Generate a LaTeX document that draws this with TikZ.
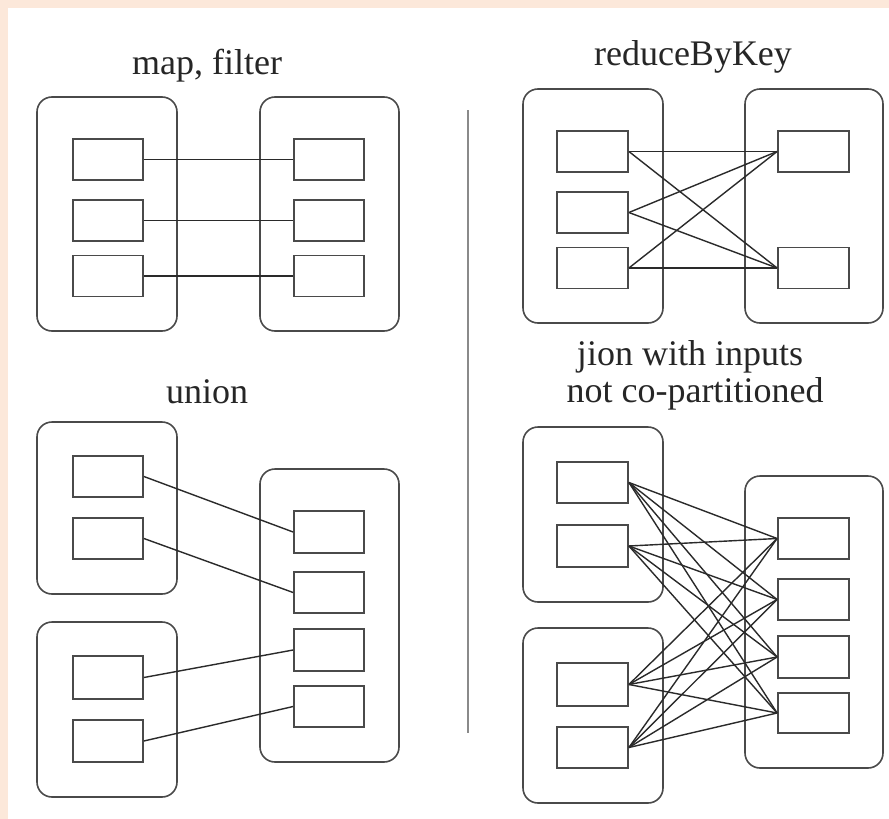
\documentclass[tikz,border=0pt]{standalone}
\usepackage{fontspec}
\setmainfont{Liberation Serif}
\definecolor{peach}{HTML}{FCE8DA}
\definecolor{boxc}{HTML}{4A4A4A}
\definecolor{linec}{HTML}{2A2A2A}
\definecolor{divc}{HTML}{8A8A8A}
\begin{document}
\begin{tikzpicture}[x=1pt,y=-1pt,
  sbox/.style={draw=boxc,line width=1.8pt,minimum width=70pt,minimum height=41pt,inner sep=0pt,fill=white},
  bbox/.style={draw=boxc,line width=1.6pt,rounded corners=15pt,inner sep=0pt,minimum width=140pt},
  conn/.style={draw=linec,line width=1.4pt},
  ttl/.style={anchor=base,inner sep=0pt,text=black!85,font=\fontsize{36}{38}\selectfont}]
\useasboundingbox (0,0) rectangle (889,819);
\fill[peach] (0,0) rectangle (889,819);
\fill[white] (8,8) rectangle (889,819);

% titles
\node[ttl] (t1) at (207,74) {map, filter};
\node[ttl] (t2) at (693,65) {reduceByKey};
\node[ttl] (t3) at (207,403) {union};
\node[ttl] (t4a) at (690,365) {jion with inputs};
\node[ttl] (t4b) at (695,402) {not co-partitioned};

% divider
\coordinate (dv1) at (467.5,110);
\coordinate (dv2) at (467.5,733);
\draw[divc,line width=2pt] (dv1) -- (dv2);

% ---- map, filter
\node[bbox,minimum height=234pt] (AL) at (107,214) {};
\node[bbox,minimum height=234pt,minimum width=139pt] (AR) at (329.5,214) {};
\foreach \n/\y in {1/159.5,2/220.5,3/276}{
  \node[sbox] (a\n) at (108,\y) {};
  \node[sbox] (b\n) at (329,\y) {};
}
\foreach \n in {1,2,3}{ \draw[conn] (a\n.east) -- (b\n.west); }

% ---- reduceByKey
\node[bbox,minimum height=234pt] (BL) at (593,206) {};
\node[bbox,minimum height=234pt,minimum width=138pt] (BR) at (814,206) {};
\foreach \n/\y in {1/151.5,2/212.5,3/268}{
  \node[sbox,minimum width=71pt] (c\n) at (592.5,\y) {};
}
\node[sbox,minimum width=71pt] (d1) at (813.5,151.5) {};
\node[sbox,minimum width=71pt] (d2) at (813.5,268) {};
\foreach \i in {1,2,3}{\foreach \j in {1,2}{ \draw[conn] (c\i.east) -- (d\j.west); }}

% ---- union
\node[bbox,minimum height=172pt] (CTL) at (107,508) {};
\node[bbox,minimum height=175pt] (CBL) at (107,709.5) {};
\node[bbox,minimum height=293pt,minimum width=139pt] (CR) at (329.5,615.5) {};
\node[sbox] (e1) at (108,476.5) {};
\node[sbox] (e2) at (108,538.5) {};
\node[sbox,minimum height=43pt] (e3) at (108,677.5) {};
\node[sbox,minimum height=42pt] (e4) at (108,741) {};
\node[sbox,minimum height=42pt] (f1) at (329,532) {};
\node[sbox] (f2) at (329,592.5) {};
\node[sbox,minimum height=42pt] (f3) at (329,650) {};
\node[sbox] (f4) at (329,706.5) {};
\foreach \n in {1,2,3,4}{ \draw[conn] (e\n.east) -- (f\n.west); }

% ---- join
\node[bbox,minimum height=175pt] (DTL) at (593,514.5) {};
\node[bbox,minimum height=175pt] (DBL) at (593,715.5) {};
\node[bbox,minimum height=292pt,minimum width=138pt] (DR) at (814,622) {};
\node[sbox,minimum width=71pt] (g1) at (592.5,482.5) {};
\node[sbox,minimum width=71pt,minimum height=42pt] (g2) at (592.5,546) {};
\node[sbox,minimum width=71pt,minimum height=43pt] (g3) at (592.5,684.5) {};
\node[sbox,minimum width=71pt] (g4) at (592.5,747.5) {};
\node[sbox,minimum width=71pt] (h1) at (813.5,538.5) {};
\node[sbox,minimum width=71pt] (h2) at (813.5,599.5) {};
\node[sbox,minimum width=71pt,minimum height=42pt] (h3) at (813.5,657) {};
\node[sbox,minimum width=71pt,minimum height=40pt] (h4) at (813.5,713) {};
\foreach \i in {1,2,3,4}{\foreach \j in {1,2,3,4}{ \draw[conn] (g\i.east) -- (h\j.west); }}
\end{tikzpicture}
\end{document}
